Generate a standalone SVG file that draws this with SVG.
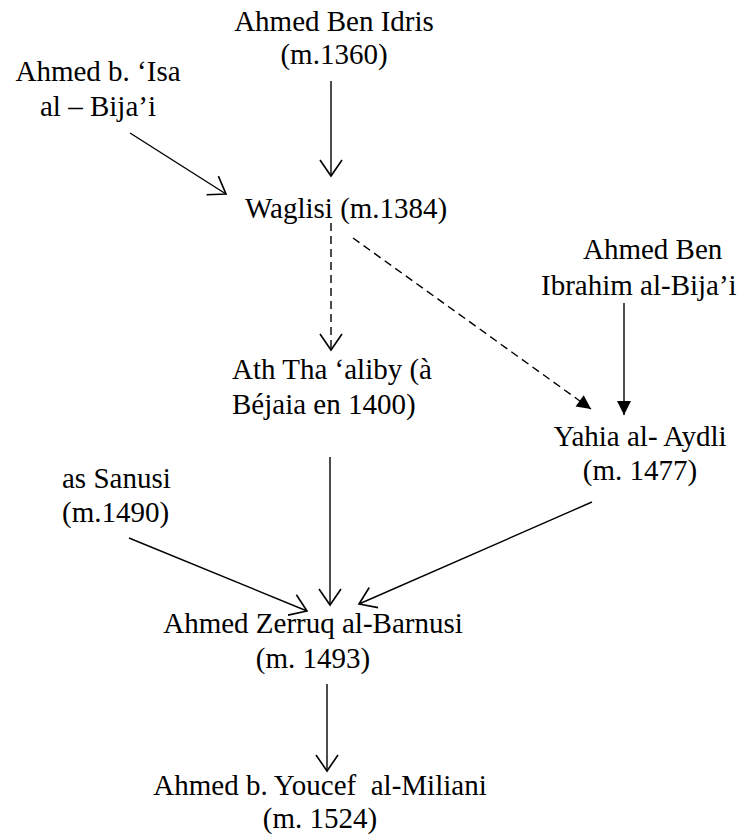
<svg xmlns="http://www.w3.org/2000/svg" width="751" height="838" viewBox="0 0 751 838">
<style>
  text { font-family: "Liberation Serif", "Times New Roman", serif; font-size: 29px; fill: #000; white-space: pre; }
  .c { text-anchor: middle; }
  .edge { fill: none; stroke: #000; stroke-width: 1.4; }
  .dash { stroke-dasharray: 8 5; }
</style>
<defs>
  <marker id="open" markerUnits="userSpaceOnUse" markerWidth="24" markerHeight="26" refX="0" refY="0" viewBox="-18 -13 20 26" orient="auto">
    <path d="M-16,-11 L0,0 L-16,11" fill="none" stroke="#000" stroke-width="1.6"/>
  </marker>
  <marker id="solid" markerUnits="userSpaceOnUse" markerWidth="18" markerHeight="18" refX="0" refY="0" viewBox="-16 -9 18 18" orient="auto">
    <path d="M-14,-7 L0,0 L-14,7 Z" fill="#000"/>
  </marker>
</defs>
<rect width="751" height="838" fill="#fff"/>
<g id="connectors">
  <line class="edge" x1="331" y1="81" x2="331" y2="176" marker-end="url(#open)"/>
  <line class="edge" x1="130" y1="133" x2="226" y2="194" marker-end="url(#open)"/>
  <line class="edge dash" x1="331" y1="223" x2="331" y2="350" marker-end="url(#open)"/>
  <line class="edge dash" x1="353" y1="238" x2="591" y2="409" marker-end="url(#solid)"/>
  <line class="edge" x1="624" y1="303" x2="624" y2="415" marker-end="url(#solid)"/>
  <line class="edge" x1="330" y1="457" x2="330" y2="605" marker-end="url(#open)"/>
  <line class="edge" x1="129" y1="538" x2="307" y2="611" marker-end="url(#open)"/>
  <line class="edge" x1="592" y1="502" x2="359" y2="604" marker-end="url(#open)"/>
  <line class="edge" x1="327" y1="684" x2="327" y2="771" marker-end="url(#open)"/>
</g>
<g id="n1"><text class="c" x="334" y="31">Ahmed Ben Idris</text><text class="c" x="334" y="64">(m.1360)</text></g>
<g id="n2"><text class="c" x="98" y="81">Ahmed b. ‘Isa</text><text class="c" x="98" y="116">al – Bija’i</text></g>
<g id="n3"><text x="245" y="218">Waglisi (m.1384)</text></g>
<g id="n4"><text x="232" y="379">Ath Tha ‘aliby (à</text><text x="232" y="414">Béjaia en 1400)</text></g>
<g id="n5"><text x="583" y="259">Ahmed Ben</text><text x="541" y="295">Ibrahim al-Bija’i</text></g>
<g id="n6"><text class="c" x="640" y="446">Yahia al- Aydli</text><text class="c" x="640" y="480">(m. 1477)</text></g>
<g id="n7"><text x="62" y="488">as Sanusi</text><text x="62" y="522">(m.1490)</text></g>
<g id="n8"><text class="c" x="313" y="633">Ahmed Zerruq al-Barnusi</text><text class="c" x="313" y="668">(m. 1493)</text></g>
<g id="n9"><text class="c" x="320" y="795">Ahmed b. Youcef  al-Miliani</text><text class="c" x="320" y="828">(m. 1524)</text></g>
</svg>
